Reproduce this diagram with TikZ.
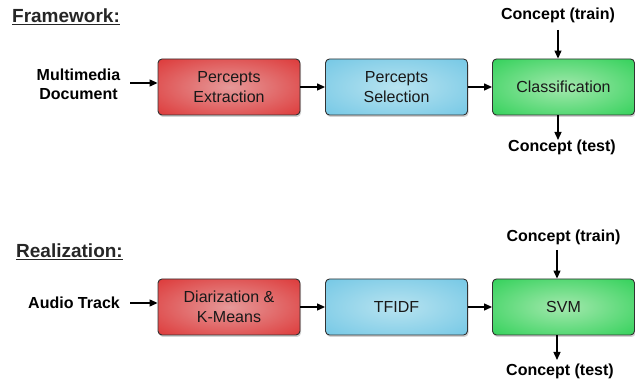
\documentclass[tikz,border=0pt]{standalone}
\usepackage{fontspec}
\setmainfont{Liberation Sans}
\usetikzlibrary{arrows.meta,shadows}
\pgfdeclareradialshading{redshade}{\pgfpoint{0bp}{0bp}}{rgb(0bp)=(0.90,0.60,0.60); rgb(44bp)=(0.86,0.14,0.14); rgb(50bp)=(0.85,0.12,0.12)}
\pgfdeclareradialshading{blueshade}{\pgfpoint{0bp}{0bp}}{rgb(0bp)=(0.72,0.89,0.94); rgb(44bp)=(0.40,0.76,0.89); rgb(50bp)=(0.38,0.74,0.88)}
\pgfdeclareradialshading{greenshade}{\pgfpoint{0bp}{0bp}}{rgb(0bp)=(0.64,0.91,0.68); rgb(44bp)=(0.10,0.80,0.28); rgb(50bp)=(0.08,0.78,0.26)}
\definecolor{boxline}{RGB}{50,50,50}
\definecolor{boxtext}{RGB}{25,25,25}
\tikzset{
  procbox/.style={draw=boxline, line width=0.9pt, rounded corners=4pt,
    minimum width=142pt, minimum height=56pt, align=center,
    font=\fontsize{16}{20}\selectfont, text=boxtext,
    drop shadow={shadow xshift=1pt, shadow yshift=-2pt, opacity=0.35}},
  redbox/.style={procbox, shading=redshade},
  bluebox/.style={procbox, shading=blueshade},
  greenbox/.style={procbox, shading=greenshade},
  lbl/.style={font=\bfseries\fontsize{16}{19}\selectfont, align=center, inner sep=0pt},
  heading/.style={font=\bfseries\fontsize{19}{22}\selectfont, inner sep=0pt, text=black!85},
  conn/.style={line width=1.3pt, -{Triangle[length=8pt,width=7pt]}},
}
\begin{document}
\begin{tikzpicture}[x=1pt,y=-1pt]
\useasboundingbox (0,0) rectangle (635,379);
% Framework row
\node[heading] (h1) at (66,17) {\underline{Framework:}};
\node[lbl] (in1) at (78.5,84) {Multimedia\\Document};
\node[redbox] (a1) at (229,87) {Percepts\\Extraction};
\node[bluebox] (b1) at (396.5,87) {Percepts\\Selection};
\node[greenbox] (c1) at (563.5,87) {Classification};
\node[lbl] (tr1) at (558,15) {Concept (train)};
\node[lbl] (te1) at (562,147) {Concept (test)};
\coordinate (in1s) at (130,83);
\coordinate (tr1bot) at (558,30);
\coordinate (te1top) at (558,140);
\draw[conn] (in1s) -- (in1s -| a1.west);
\draw[conn] (a1.east) -- (b1.west);
\draw[conn] (b1.east) -- (c1.west);
\draw[conn] (tr1bot) -- (tr1bot |- c1.north);
\draw[conn] (te1top |- c1.south) -- (te1top);
% Realization row
\node[heading] (h2) at (69.5,252) {\underline{Realization:}};
\node[lbl] (in2) at (74,303) {Audio Track};
\node[redbox] (a2) at (229,307) {Diarization \&\\K-Means};
\node[bluebox] (b2) at (396.5,307) {TFIDF};
\node[greenbox] (c2) at (563.5,307) {SVM};
\node[lbl] (tr2) at (563.5,237) {Concept (train)};
\node[lbl] (te2) at (560,371) {Concept (test)};
\coordinate (in2s) at (130,303);
\coordinate (tr2bot) at (557,250);
\coordinate (te2top) at (557,360);
\draw[conn] (in2s) -- (in2s -| a2.west);
\draw[conn] (a2.east) -- (b2.west);
\draw[conn] (b2.east) -- (c2.west);
\draw[conn] (tr2bot) -- (tr2bot |- c2.north);
\draw[conn] (te2top |- c2.south) -- (te2top);
\end{tikzpicture}
\end{document}
